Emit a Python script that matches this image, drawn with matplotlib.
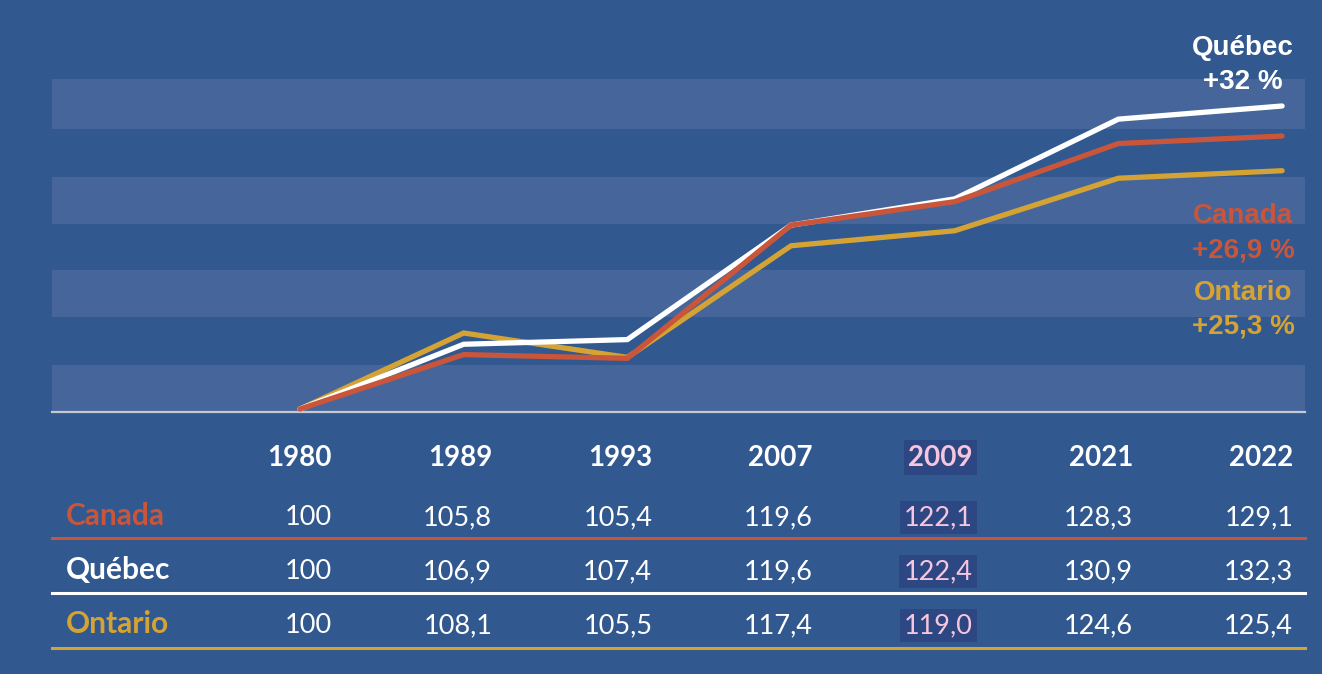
import matplotlib.pyplot as plt

# données : indice (1980 = 100)
years = ['1980', '1989', '1993', '2007', '2009', '2021', '2022']
canada = [100, 105.8, 105.4, 119.6, 122.1, 128.3, 129.1]
quebec = [100, 106.9, 107.4, 119.6, 122.4, 130.9, 132.3]
ontario = [100, 108.1, 105.5, 117.4, 119.0, 124.6, 125.4]
highlight_year = '2009'
growth = {'Québec': '+32 %', 'Canada': '+26,9 %', 'Ontario': '+25,3 %'}

BG = '#31588f'
BAND = '#46669b'
RED = '#c9553a'
GOLD = '#d4a334'
WHITE = '#ffffff'
PINK = '#f6c6df'
HL = '#2d4782'

W, H = 1322, 674


def fx(x):
    return x / W


def fy(y):
    return 1 - y / H


fig = plt.figure(figsize=(W / 100, H / 100), dpi=100, facecolor=BG)

ax = fig.add_axes([fx(52), fy(412), fx(1305 - 52), 412 / H])
ax.set_xlim(-1.515, 6.14)
ax.set_ylim(99.68, 143.6)
ax.axis('off')

# bandes horizontales
for lo, hi in [(99.68, 104.7), (109.8, 114.8), (119.7, 124.7), (129.85, 135.2)]:
    ax.axhspan(lo, hi, color=BAND, lw=0, zorder=0)
ax.axhline(99.68, color='#c5c9d3', lw=1.6, zorder=1, clip_on=False)

x = list(range(len(years)))
ax.plot(x, ontario, color=GOLD, lw=3.8, solid_capstyle='round', solid_joinstyle='miter', zorder=2)
ax.plot(x, quebec, color=WHITE, lw=3.8, solid_capstyle='round', solid_joinstyle='miter', zorder=3)
ax.plot(x, canada, color=RED, lw=3.8, solid_capstyle='round', solid_joinstyle='miter', zorder=4)

# étiquettes à droite
lab_font = dict(family=['Liberation Sans', 'DejaVu Sans'], fontsize=20, fontweight='bold', ha='center', va='baseline')
for name, col, y1, y2 in [('Québec', WHITE, 55, 89), ('Canada', RED, 223, 257), ('Ontario', GOLD, 300, 334)]:
    fig.text(fx(1243), fy(y1), name, color=col, **lab_font)
    fig.text(fx(1243), fy(y2), growth[name], color=col, **lab_font)

# tableau
col_right = [332 + 160.2 * i for i in range(len(years))]
head_font = dict(family=['Lato', 'DejaVu Sans'], fontsize=20, fontweight='bold', ha='right', va='baseline')
val_font = dict(family=['Lato', 'DejaVu Sans'], fontsize=19.5, fontweight='normal', ha='right', va='baseline')
row_font = dict(family=['Lato', 'DejaVu Sans'], fontsize=21.5, fontweight='bold', ha='left', va='baseline')
hl_box = dict(boxstyle='square,pad=0.16', fc=HL, ec='none')

for xr, yr in zip(col_right, years):
    if yr == highlight_year:
        fig.text(fx(xr), fy(465.5), yr, color=PINK, bbox=hl_box, **head_font)
    else:
        fig.text(fx(xr), fy(465.5), yr, color=WHITE, **head_font)


def fmt(v):
    return '100' if v == 100 else f'{v:.1f}'.replace('.', ',')


rows = [('Canada', canada, RED, 525, 537.5),
        ('Québec', quebec, WHITE, 579, 592.5),
        ('Ontario', ontario, GOLD, 633, 647.5)]
for name, vals, col, base, rule in rows:
    fig.text(fx(66), fy(base), name, color=col, **row_font)
    for xr, yr, v in zip(col_right, years, vals):
        if yr == highlight_year:
            fig.text(fx(xr), fy(base), fmt(v), color=PINK, bbox=hl_box, **val_font)
        else:
            fig.text(fx(xr), fy(base), fmt(v), color=WHITE, **val_font)
    fig.add_artist(plt.Line2D([fx(52), fx(1305)], [fy(rule), fy(rule)], color=col, lw=2.2))

fig.savefig('out.png', dpi=100, facecolor=BG)
